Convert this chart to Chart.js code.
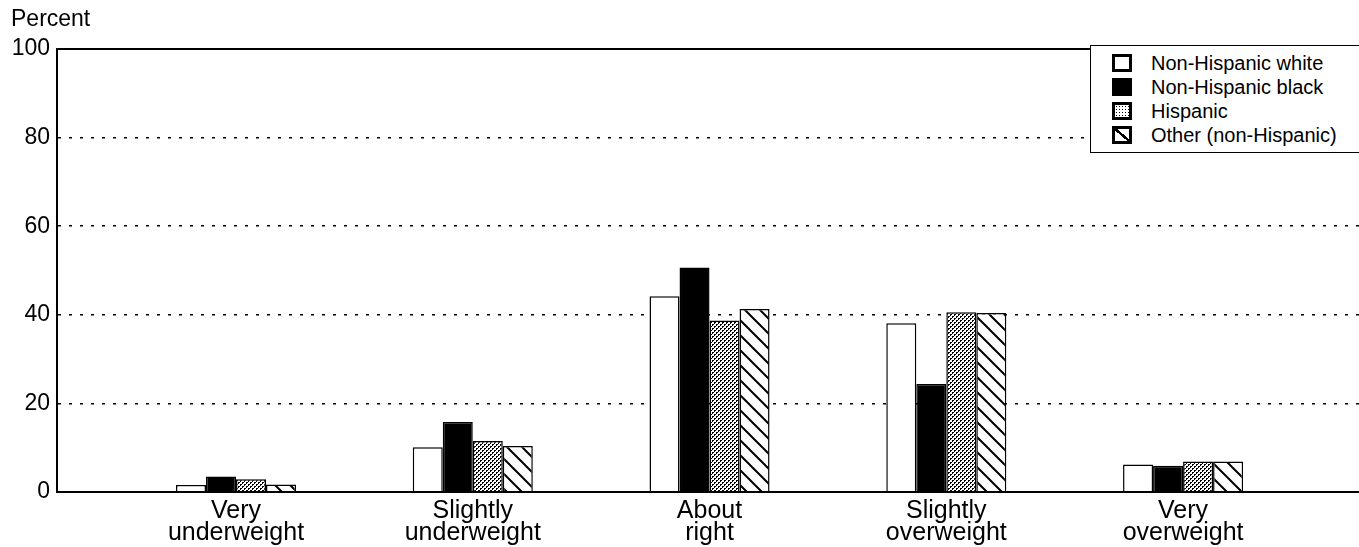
<!DOCTYPE html>
<html>
<head>
<meta charset="utf-8">
<script src="https://cdn.jsdelivr.net/npm/chart.js@4/dist/chart.umd.min.js"></script>
<style>
    html, body { margin: 0; padding: 0; background: #fff; }
    #wrap { position: relative; width: 1359px; height: 547px; overflow: hidden; }
    #yTitle { position: absolute; left: 11px; top: 5px; font: 23px 'Liberation Sans', Arial, sans-serif; color: #000; }
    #legend {
        position: absolute; left: 1090px; top: 45px; width: 290px; height: 108px;
        background: #fff; border: 1.5px solid #000; box-sizing: border-box;
        font: 20px 'Liberation Sans', Arial, sans-serif; color: #000;
    }
    .row { position: absolute; left: 21px; height: 24px; display: flex; align-items: center; }
    .sw { width: 20px; height: 18px; box-sizing: border-box; border: 3px solid #000; margin-right: 19px; background: #fff; }
    .sw.black { background: #000; }
    .sw.hisp { background-color: #fff; background-image: radial-gradient(#000 0.9px, transparent 1px); background-size: 3px 3px; }
    .sw.other { background: linear-gradient(to top right, #fff 44%, #000 44%, #000 58%, #fff 58%); }
</style>
</head>
<body>
<div id="wrap">
    <canvas id="chart"></canvas>
    <div id="yTitle">Percent</div>
    <div id="legend"></div>
</div>
<script>
// categories (two-line labels) and values
const categories = [
    ['Very', 'underweight'],
    ['Slightly', 'underweight'],
    ['About', 'right'],
    ['Slightly', 'overweight'],
    ['Very', 'overweight']
];
const seriesNames = ['Non-Hispanic white', 'Non-Hispanic black', 'Hispanic', 'Other (non-Hispanic)'];
const whiteValues = [1.6, 10.1, 44.2, 38.1, 6.2];
const blackValues = [3.5, 15.8, 50.7, 24.4, 5.9];
const hispanicValues = [2.9, 11.5, 38.7, 40.6, 6.9];
const otherValues = [1.7, 10.4, 41.3, 40.4, 6.9];
const yTicks = [0, 20, 40, 60, 80, 100];

const makeStipple = () => {
    const c = document.createElement('canvas');
    c.width = 4;
    c.height = 4;
    const g = c.getContext('2d');
    g.fillStyle = '#fff';
    g.fillRect(0, 0, 4, 4);
    g.fillStyle = '#000';
    [[0, 0], [1, 0], [0, 1], [2, 2], [3, 2], [2, 3]].forEach(([x, y]) => g.fillRect(x, y, 1, 1));
    return g.createPattern(c, 'repeat');
};

const makeHatch = () => {
    const s = 15;
    const c = document.createElement('canvas');
    c.width = s;
    c.height = s;
    const g = c.getContext('2d');
    g.fillStyle = '#fff';
    g.fillRect(0, 0, s, s);
    g.strokeStyle = '#000';
    g.lineWidth = 2;
    g.beginPath();
    g.moveTo(-2, -2); g.lineTo(s + 2, s + 2);
    g.moveTo(s - 2, -2); g.lineTo(s + 2, 2);
    g.moveTo(-2, s - 2); g.lineTo(2, s + 2);
    g.stroke();
    return g.createPattern(c, 'repeat');
};

const fills = ['#fff', '#000', makeStipple(), makeHatch()];
const seriesValues = [whiteValues, blackValues, hispanicValues, otherValues];

// html legend, boxed in the top right corner
const legendEl = document.getElementById('legend');
const swClass = ['', 'black', 'hisp', 'other'];
seriesNames.forEach((name, i) => {
    const row = document.createElement('div');
    row.className = 'row';
    row.style.top = (5 + i * 24) + 'px';
    row.innerHTML = `<span class="sw ${swClass[i]}"></span><span>${name}</span>`;
    legendEl.appendChild(row);
});

const isFrameTick = (ctx) => ctx.tick && (ctx.tick.value === 0 || ctx.tick.value === 100);

new Chart(document.getElementById('chart'), {
    type: 'bar',
    data: {
        datasets: seriesNames.map((name, i) => ({
            label: name,
            data: seriesValues[i].map((v, j) => ({ x: j, y: v })),
            backgroundColor: fills[i],
            borderColor: '#000',
            borderWidth: 1.5,
            borderSkipped: 'bottom',
            categoryPercentage: 0.507,
            barPercentage: 1.0
        }))
    },
    options: {
        responsive: true,
        maintainAspectRatio: false,
        animation: false,
        layout: { padding: { top: 49, right: 0, left: 0, bottom: 0 } },
        scales: {
            x: {
                type: 'linear',
                offset: false,
                grace: 0,
                min: -0.756,
                max: 4.743,
                afterBuildTicks: (axis) => {
                    axis.ticks = categories.map((_c, i) => ({ value: i }));
                },
                afterFit: (axis) => { axis.height = 55; },
                grid: { display: false, drawTicks: false, offset: false },
                border: { display: true, color: '#000', width: 2 },
                ticks: {
                    autoSkip: false,
                    maxRotation: 0,
                    padding: 8,
                    color: '#000',
                    font: { family: "'Liberation Sans', Arial, sans-serif", size: 25, lineHeight: '22px' },
                    callback: (value) => categories[Math.round(value)] || ''
                }
            },
            y: {
                min: 0,
                max: 100,
                afterBuildTicks: (axis) => {
                    axis.ticks = yTicks.map((v) => ({ value: v }));
                },
                afterFit: (axis) => { axis.width = 57; },
                grid: {
                    color: '#000',
                    drawTicks: false,
                    lineWidth: (ctx) => (isFrameTick(ctx) ? 2 : 1.5)
                },
                border: {
                    display: true,
                    color: '#000',
                    width: 2,
                    dash: (ctx) => (ctx.tick && !isFrameTick(ctx) ? [3, 8] : [])
                },
                ticks: {
                    padding: 7,
                    color: '#000',
                    font: { family: "'Liberation Sans', Arial, sans-serif", size: 23 }
                }
            }
        },
        plugins: {
            legend: { display: false },
            tooltip: { enabled: false }
        }
    }
});
</script>
</body>
</html>
